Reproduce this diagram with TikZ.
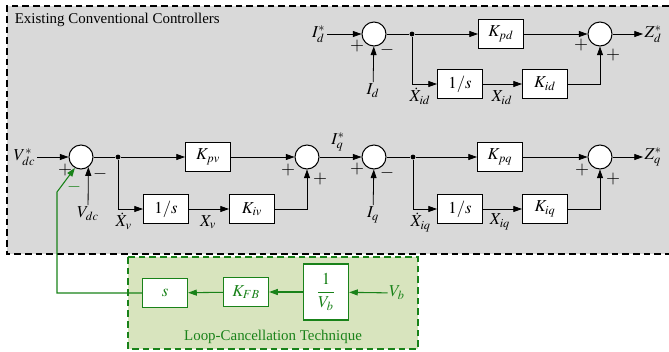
\documentclass[tikz,border=0pt]{standalone}
\usepackage{mathptmx}
\usepackage{fontspec}
\setmainfont{Liberation Serif}
\usepackage{xcolor}
\usepackage{tikz}
\usetikzlibrary{arrows.meta,positioning,calc}
\definecolor{ctrlgray}{RGB}{217,217,217}
\definecolor{lctgreen}{RGB}{25,130,25}
\definecolor{lctfill}{RGB}{216,228,190}

\begin{document}
\begin{tikzpicture}[
    x=0.75pt, y=-0.75pt,
    font=\fontsize{11.2}{13}\selectfont,
    line width=0.6pt,
    blk/.style={draw, fill=white, line width=0.75pt, minimum width=33.75pt,
                minimum height=21.75pt, inner sep=1pt, font=\fontsize{12.5}{14}\selectfont},
    gblk/.style={blk, draw=lctgreen, text=lctgreen, line width=0.9pt},
    sumc/.style={draw, circle, fill=white, line width=0.75pt, minimum size=18pt, inner sep=0pt},
    sig/.style={inner sep=1pt, font=\fontsize{12.5}{14}\selectfont},
    brdot/.style={circle, fill, inner sep=0pt, minimum size=3.6pt},
    pm/.style={inner sep=0pt, font=\fontsize{13.5}{14}\selectfont},
    frame/.style={dashed, dash pattern=on 5pt off 3pt, line width=0.8pt},
    >={Triangle[length=6.5pt,width=4.5pt]},
    ]
\useasboundingbox (0,0) rectangle (669,351);
\fill[ctrlgray] (7,6) rectangle (669,254);
\draw[frame] (669,6) -- (7,6) -- (7,254) -- (669,254);
\draw[frame, draw=lctgreen, fill=lctfill] (128,257) rectangle (418,349);

\node[anchor=west] (title) at (10,20) {Existing Conventional Controllers};

% d-axis current loop
\node[sig, anchor=east] (Idref) at (327,34) {$I_d^*$};
\node[sumc] (s1) at (374,34) {};
\node[brdot] (b1) at (412,34) {};
\node[blk] (kpd) at (501,34) {$K_{pd}$};
\node[sumc] (s2) at (600,34) {};
\node[sig, anchor=west] (Zd) at (643,34) {$Z_d^*$};
\node[blk] (intd) at (460,84) {$1/s$};
\node[blk] (kid) at (545,84) {$K_{id}$};
\node[sig, anchor=north] (Id) at (373,82) {$I_d$};
\node[sig, anchor=north west] (Xdid) at (408,86) {$\dot{X}_{id}$};
\node[sig] (Xid) at (502,98) {$X_{id}$};

\draw[->] (Idref) -- (s1);
\draw (s1) -- (b1);
\draw[->] (b1) -- (kpd);
\draw[->] (kpd) -- (s2);
\draw[->] (s2) -- (Zd);
\draw[->] (b1) |- (intd);
\draw[->] (intd) -- (kid);
\draw[->] (kid) -| (s2);
\draw[->] (Id) -- (s1);

% dc-voltage loop
\node[sig, anchor=east] (Vdcref) at (37,157) {$V_{dc}^*$};
\node[sumc] (s3) at (81,157) {};
\node[brdot] (b2) at (118,157) {};
\node[blk] (kpv) at (208,157) {$K_{pv}$};
\node[sumc] (s4) at (307,157) {};
\node[blk] (intv) at (166,209) {$1/s$};
\node[blk] (kiv) at (252,209) {$K_{iv}$};
\node[sig, anchor=north] (Vdc) at (88,205) {$V_{dc}$};
\node[sig, anchor=north west] (Xdv) at (114,211) {$\dot{X}_{v}$};
\node[sig] (Xv) at (208,222) {$X_{v}$};
\node[sig] (Iqref) at (338,142) {$I_q^*$};

\draw[->] (Vdcref) -- (s3);
\draw (s3) -- (b2);
\draw[->] (b2) -- (kpv);
\draw[->] (kpv) -- (s4);
\draw[->] (b2) |- (intv);
\draw[->] (intv) -- (kiv);
\draw[->] (kiv) -| (s4);
\draw[->] (Vdc) -- (s3.-54);

% q-axis current loop
\node[sumc] (s5) at (374,157) {};
\node[brdot] (b3) at (413,157) {};
\node[blk] (kpq) at (500,157) {$K_{pq}$};
\node[sumc] (s6) at (600,157) {};
\node[sig, anchor=west] (Zq) at (643,157) {$Z_q^*$};
\node[blk] (intq) at (460,209) {$1/s$};
\node[blk] (kiq) at (545,209) {$K_{iq}$};
\node[sig, anchor=north] (Iq) at (373,205) {$I_q$};
\node[sig, anchor=north west] (Xdiq) at (409,211) {$\dot{X}_{iq}$};
\node[sig] (Xiq) at (500,222) {$X_{iq}$};

\draw[->] (s4) -- (s5);
\draw (s5) -- (b3);
\draw[->] (b3) -- (kpq);
\draw[->] (kpq) -- (s6);
\draw[->] (s6) -- (Zq);
\draw[->] (b3) |- (intq);
\draw[->] (intq) -- (kiq);
\draw[->] (kiq) -| (s6);
\draw[->] (Iq) -- (s5);

% signs
\node[pm] (p1) at ($(s1)+(-17,12)$) {$+$};
\node[pm] (m1) at ($(s1)+(13,16)$) {$-$};
\node[pm] (p2) at ($(s2)+(-19,11)$) {$+$};
\node[pm] (p3) at ($(s2)+(13,21)$) {$+$};
\node[pm] (p4) at ($(s3)+(-16,13)$) {$+$};
\node[pm] (m2) at ($(s3)+(19,17)$) {$-$};
\node[pm] (p5) at ($(s4)+(-19,13)$) {$+$};
\node[pm] (p6) at ($(s4)+(13,22)$) {$+$};
\node[pm] (p7) at ($(s5)+(-17,12)$) {$+$};
\node[pm] (m3) at ($(s5)+(13,16)$) {$-$};
\node[pm] (p8) at ($(s6)+(-18,13)$) {$+$};
\node[pm] (p9) at ($(s6)+(13,22)$) {$+$};

% loop-cancellation feedback
\node[gblk] (sfb) at (165,293) {$s$};
\node[gblk] (kfb) at (246,292) {$K_{FB}$};
\node[gblk, minimum height=42pt] (invvb) at (326,292) {$\displaystyle\frac{1}{V_b}$};
\node[sig, text=lctgreen] (Vb) at (397,293) {$V_b$};
\node[text=lctgreen] (lct) at (273,337) {Loop-Cancellation Technique};
\node[pm, text=lctgreen] (m4) at (74,187) {$-$};
\coordinate (fbc) at (57,293);
\coordinate (fbk) at (57,192);

\draw[->, lctgreen, line width=0.8pt] (Vb) -- (invvb);
\draw[->, lctgreen, line width=0.8pt] (invvb) -- (kfb);
\draw[->, lctgreen, line width=0.8pt] (kfb) -- (sfb);
\draw[->, lctgreen, line width=0.8pt] (sfb) -- (fbc) -- (fbk) -- (s3.-119);
\end{tikzpicture}
\end{document}
